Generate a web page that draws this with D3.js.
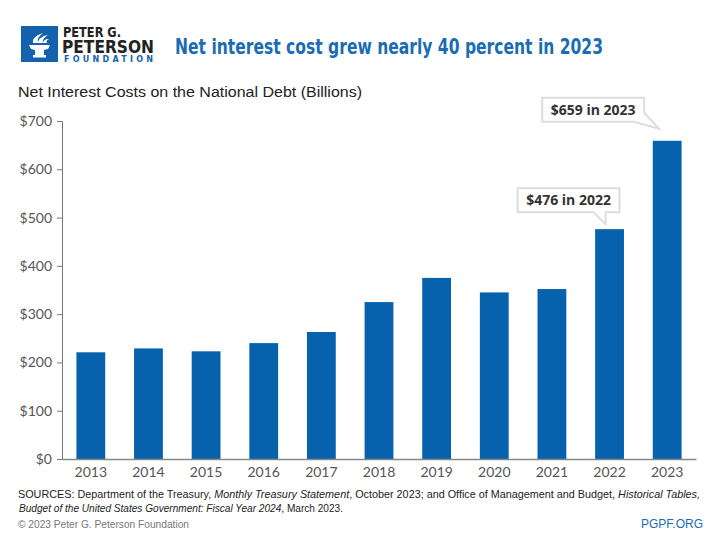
<!DOCTYPE html>
<html>
<head>
<meta charset="utf-8">
<script src="https://cdn.jsdelivr.net/npm/d3@7"></script>
<style>
  body { margin: 0; background: #fff; }
  svg { display: block; }
</style>
</head>
<body>
<svg id="chart" width="720" height="540"></svg>
<script>
// data
var years = ["2013", "2014", "2015", "2016", "2017", "2018", "2019", "2020", "2021", "2022", "2023"];
var costs = [221, 229, 223, 240, 263, 325, 375, 345, 352, 476, 659];
var yTicks = [0, 100, 200, 300, 400, 500, 600, 700];
var callouts = [
  {year: "2022", label: "$476 in 2022"},
  {year: "2023", label: "$659 in 2023"}
];

var blue = "#0762ad";

var svg = d3.select("#chart"),
    margin = {top: 121, right: 24, bottom: 81, left: 62},
    width = +svg.attr("width") - margin.left - margin.right,
    height = +svg.attr("height") - margin.top - margin.bottom,
    g = svg.append("g").attr("transform", "translate(" + margin.left + "," + margin.top + ")");

var x = d3.scaleBand()
    .domain(years)
    .range([0, width])
    .paddingInner(0.5)
    .paddingOuter(0.25);

var y = d3.scaleLinear()
    .domain([0, 700])
    .range([height, 0]);

// logo
var logo = svg.append("g").attr("transform", "translate(21,26)");
logo.append("rect").attr("width", 37).attr("height", 36).attr("fill", "#1462ae");
// torch bowl
logo.append("path")
    .attr("d", "M8,19 L29,19 L27,23 L23,24 L23,29 L14,29 L14,24 L10,23 Z")
    .attr("fill", "#fff");
logo.append("rect").attr("x", 12).attr("y", 29).attr("width", 13).attr("height", 2.5).attr("fill", "#fff");
// flame streaks
logo.append("path")
    .attr("d", "M12,17 C11,12 16,9 22,7 C18,10 16,13 17,17 Z M17,17 C17,13 21,10 27,9 C23,12 21,14 22,17 Z M22,17 C22,15 24,13 28,13 C26,14 25,15 26,17 Z")
    .attr("fill", "#fff");

var cond = "'Liberation Sans Narrow', 'DejaVu Sans Condensed', sans-serif";
svg.append("text").attr("x", 63).attr("y", 37)
    .style("font-family", cond)
    .style("font-weight", "bold").style("font-size", "13.5px").attr("fill", "#222")
    .attr("textLength", 58).attr("lengthAdjust", "spacingAndGlyphs")
    .text("PETER G.");
svg.append("text").attr("x", 62).attr("y", 53)
    .style("font-family", cond)
    .style("font-weight", "bold").style("font-size", "17.5px").attr("fill", "#222")
    .attr("textLength", 92).attr("lengthAdjust", "spacingAndGlyphs")
    .text("PETERSON");
svg.append("text").attr("x", 64).attr("y", 62)
    .style("font-family", "'DejaVu Sans', sans-serif")
    .style("font-weight", "bold").style("font-size", "8px").attr("fill", "#1462ae")
    .attr("textLength", 89).attr("lengthAdjust", "spacing")
    .text("FOUNDATION");

// title
svg.append("text").attr("x", 175).attr("y", 54)
    .style("font-family", cond)
    .style("font-weight", "bold").style("font-size", "22px").attr("fill", "#1a6cb3")
    .attr("textLength", 428).attr("lengthAdjust", "spacingAndGlyphs")
    .text("Net interest cost grew nearly 40 percent in 2023");

svg.append("text").attr("x", 18).attr("y", 97)
    .style("font-family", "'Liberation Sans', sans-serif")
    .style("font-size", "15.5px").attr("fill", "#222")
    .attr("textLength", 344).attr("lengthAdjust", "spacingAndGlyphs")
    .text("Net Interest Costs on the National Debt (Billions)");

// axes
var yAxis = d3.axisLeft(y).tickValues(yTicks).tickSize(5).tickPadding(5)
    .tickFormat(function(d) { return "$" + d; });
var ya = g.append("g").call(yAxis);
ya.select(".domain").attr("stroke", "#777");
ya.selectAll(".tick line").attr("stroke", "#777");
ya.selectAll(".tick text")
    .style("font-family", "Lato, sans-serif").style("font-size", "14px").attr("fill", "#555");

g.selectAll(".bar")
    .data(years)
    .enter().append("rect")
    .attr("class", "bar")
    .attr("x", function(d) { return x(d); })
    .attr("width", x.bandwidth())
    .attr("y", function(d, i) { return y(costs[i]); })
    .attr("height", function(d, i) { return height - y(costs[i]); })
    .attr("fill", blue);

var xAxis = d3.axisBottom(x).tickSize(0).tickPadding(8);
var xa = g.append("g").attr("transform", "translate(0," + height + ")").call(xAxis);
xa.select(".domain").attr("stroke", "#888").attr("stroke-width", 1.5);
xa.selectAll(".tick text")
    .style("font-family", "Lato, sans-serif").style("font-size", "14px").attr("fill", "#555");

// callouts
function callout(c) {
  var i = years.indexOf(c.year),
      cx = x(c.year) + x.bandwidth() / 2,
      top = y(costs[i]);
  var grp = g.append("g");
  var t = grp.append("text")
      .style("font-family", "'Open Sans', sans-serif").style("font-weight", "bold")
      .style("font-size", "14px").attr("fill", "#333")
      .text(c.label);
  var w = 102, h = 24, bx, by, path;
  if (c.year === "2023") {
    bx = cx - 125; by = top - 43;
    path = "M" + bx + "," + by + "h" + w + "v" + 15 + "L" + (cx - 8) + "," + (top - 12)
         + "L" + (bx + w - 10) + "," + (by + h) + "H" + bx + "Z";
  } else {
    bx = cx - 92; by = top - 41;
    path = "M" + bx + "," + by + "h" + w + "v" + h + "H" + (cx - 4)
         + "L" + (cx - 4) + "," + (top - 5) + "L" + (cx - 16) + "," + (by + h) + "H" + bx + "Z";
  }
  grp.insert("path", "text").attr("d", path)
      .attr("fill", "#fff").attr("stroke", "#ddd").attr("stroke-width", 2);
  t.attr("x", bx + w / 2).attr("y", by + 17).attr("text-anchor", "middle");
}
callouts.forEach(callout);

// footer
var foot = svg.append("g")
    .style("font-family", "'Liberation Sans Narrow', 'Liberation Sans', sans-serif")
    .style("font-size", "10.5px").attr("fill", "#222");
var s1 = foot.append("text").attr("x", 18).attr("y", 498)
    .attr("textLength", 682).attr("lengthAdjust", "spacingAndGlyphs");
s1.append("tspan").text("SOURCES: Department of the Treasury, ");
s1.append("tspan").style("font-style", "italic").text("Monthly Treasury Statement");
s1.append("tspan").text(", October 2023; and Office of Management and Budget, ");
s1.append("tspan").style("font-style", "italic").text("Historical Tables,");
var s2 = foot.append("text").attr("x", 19).attr("y", 512)
    .attr("textLength", 324).attr("lengthAdjust", "spacingAndGlyphs");
s2.append("tspan").style("font-style", "italic").text("Budget of the United States Government: Fiscal Year 2024");
s2.append("tspan").text(", March 2023.");
foot.append("text").attr("x", 18).attr("y", 528).attr("fill", "#777")
    .attr("textLength", 171).attr("lengthAdjust", "spacingAndGlyphs")
    .text("\u00a9 2023 Peter G. Peterson Foundation");
foot.append("text").attr("x", 703).attr("y", 528).attr("text-anchor", "end")
    .attr("fill", "#1a6cb3").style("font-size", "12px")
    .text("PGPF.ORG");
</script>
</body>
</html>
